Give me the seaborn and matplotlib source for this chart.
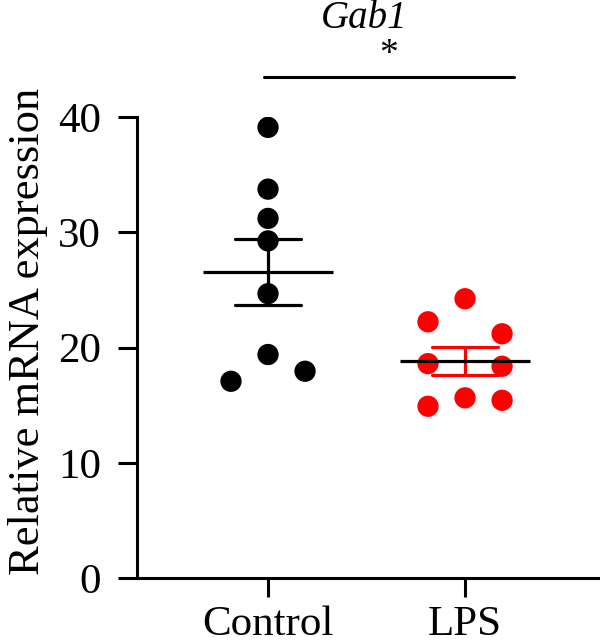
import numpy as np
import pandas as pd
import matplotlib
matplotlib.use("Agg")
import matplotlib.pyplot as plt
import seaborn as sns

# ---- data ----
groups = ["Control", "LPS"]
control_values = [39.1, 33.74, 31.2, 29.25, 24.67, 19.39, 17.07, 17.94]
lps_values = [24.23, 22.23, 21.19, 18.6, 18.37, 14.9, 15.63, 15.42]
# horizontal scatter offsets (category units) as in the original layout
control_offsets = [0, 0, 0, 0, 0, 0, -0.188, 0.188]
lps_offsets = [0, -0.188, 0.188, -0.188, 0.188, -0.188, 0, 0.188]
y_ticks = [0, 10, 20, 30, 40]
palette = {"Control": "#000000", "LPS": "#ff0000"}

df = pd.DataFrame({
    "group": ["Control"] * len(control_values) + ["LPS"] * len(lps_values),
    "value": control_values + lps_values,
    "offset": control_offsets + lps_offsets,
})
df["xpos"] = df["group"].map({g: i for i, g in enumerate(groups)}) + df["offset"]

sns.set_style("ticks")
plt.rcParams["font.family"] = ["Liberation Serif", "DejaVu Serif"]
plt.rcParams["text.color"] = "black"
plt.rcParams["axes.labelcolor"] = "black"

fig = plt.figure(figsize=(6.0, 6.44), dpi=100)
ax = fig.add_axes([137 / 600, 66 / 644, 1 - 137 / 600, (578 - 117) / 644])

sns.scatterplot(data=df, x="xpos", y="value", hue="group", palette=palette,
                s=235, edgecolor="none", legend=False, ax=ax, zorder=2)

# SEM error bars
sns.pointplot(data=df, x="group", y="value", hue="group", palette=palette,
              order=groups, errorbar="se", capsize=0.335, linestyle="none",
              marker="", err_kws={"linewidth": 2.3}, legend=False, ax=ax)
# mean lines
sns.pointplot(data=df, x="group", y="value", order=groups, errorbar=None,
              color="black", linestyle="none", marker="_", markersize=94,
              markeredgewidth=2.3, ax=ax)

for c in ax.collections:
    c.set_zorder(2)
for l in ax.lines:
    l.set_zorder(3)

ax.set_xlim(-0.665, 1.685)
ax.set_ylim(0, 40)
ax.set_yticks(y_ticks)
ax.set_xticks([0, 1])
ax.set_xticklabels(groups)
ax.set_xlabel("")
ax.set_ylabel("Relative mRNA expression", fontsize=32, labelpad=7,
              color="black", y=0.535)

for s in ["top", "right"]:
    ax.spines[s].set_visible(False)
for s in ["left", "bottom"]:
    ax.spines[s].set_linewidth(2.2)
    ax.spines[s].set_color("black")

ax.tick_params(axis="y", length=14, width=2.2, pad=12, labelsize=31,
               colors="black", labelcolor="black")
ax.tick_params(axis="x", length=14, width=2.2, pad=6, labelsize=31,
               colors="black", labelcolor="black")

# significance bar
ax.plot([-0.02, 1.25], [43.5, 43.5], color="black", lw=2.2, clip_on=False)
ax.text(0.614, 43.9, "*", ha="center", va="bottom", fontsize=27, color="black")
ax.text(0.49, 47.7, "Gab1", ha="center", va="baseline", fontsize=28,
        style="italic", color="black")

fig.savefig("out.png", dpi=100)
